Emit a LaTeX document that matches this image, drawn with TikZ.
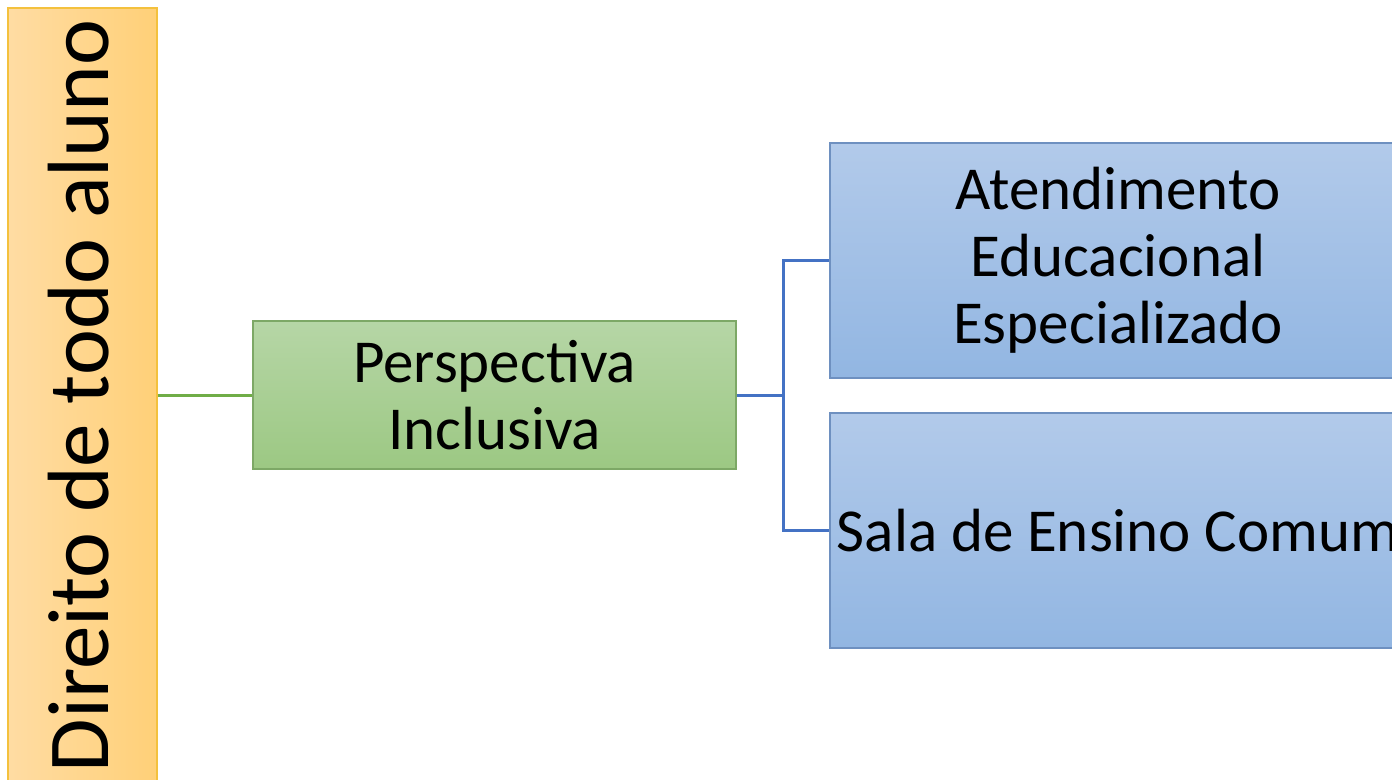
\documentclass[tikz,border=0pt]{standalone}
\usepackage{fontspec}
\setmainfont{Carlito}
\usepackage{tikz}

\definecolor{barleft}{HTML}{FFDCA3}
\definecolor{barright}{HTML}{FFD078}
\definecolor{barline}{HTML}{F4C13D}
\definecolor{greentop}{HTML}{B6D6A6}
\definecolor{greenbot}{HTML}{9CC883}
\definecolor{greenline}{HTML}{7DA866}
\definecolor{bluetop}{HTML}{B2CAEA}
\definecolor{bluebot}{HTML}{92B6E2}
\definecolor{blueline}{HTML}{6E90C0}
\definecolor{linkblue}{HTML}{4472C4}
\definecolor{linkgreen}{HTML}{70AD47}

\begin{document}
\begin{tikzpicture}[x=1pt,y=-1pt,
    bigtext/.style={font=\fontsize{61}{67}\selectfont,align=center,inner sep=0pt}]
  \useasboundingbox (0,0) rectangle (1392,779);
  \clip (0,0) rectangle (1392,779);
  \node (bar) at (82.5,404) [rectangle,draw=barline,line width=1.5pt,left color=barleft,right color=barright,minimum width=149pt,minimum height=792pt,inner sep=0pt] {};
  \node (title) at (79,396) [rotate=90,font=\fontsize{87}{95}\selectfont,inner sep=0pt] {Direito de todo aluno};
  \node (pers) at (494.5,395) [rectangle,draw=greenline,line width=1.5pt,top color=greentop,bottom color=greenbot,minimum width=483pt,minimum height=148pt] {};
  \node at (pers.center) [bigtext] {Perspectiva\\Inclusiva};
  \node (aee) at (1118,260.5) [rectangle,draw=blueline,line width=1.5pt,top color=bluetop,bottom color=bluebot,minimum width=576pt,minimum height=235pt] {};
  \node at (aee.center) [bigtext] {Atendimento\\Educacional\\Especializado};
  \node (sala) at (1118,530.5) [rectangle,draw=blueline,line width=1.5pt,top color=bluetop,bottom color=bluebot,minimum width=576pt,minimum height=235pt] {};
  \node at (sala.center) [bigtext] {Sala de Ensino Comum};
  \coordinate (fork) at (783,395);
  \draw[linkgreen,line width=3pt] (bar.east |- pers.west) to (pers.west);
  \draw[linkblue,line width=3pt] (pers.east) to (fork);
  \draw[linkblue,line width=3pt] (fork) |- (aee.west);
  \draw[linkblue,line width=3pt] (fork) |- (sala.west);
\end{tikzpicture}
\end{document}
